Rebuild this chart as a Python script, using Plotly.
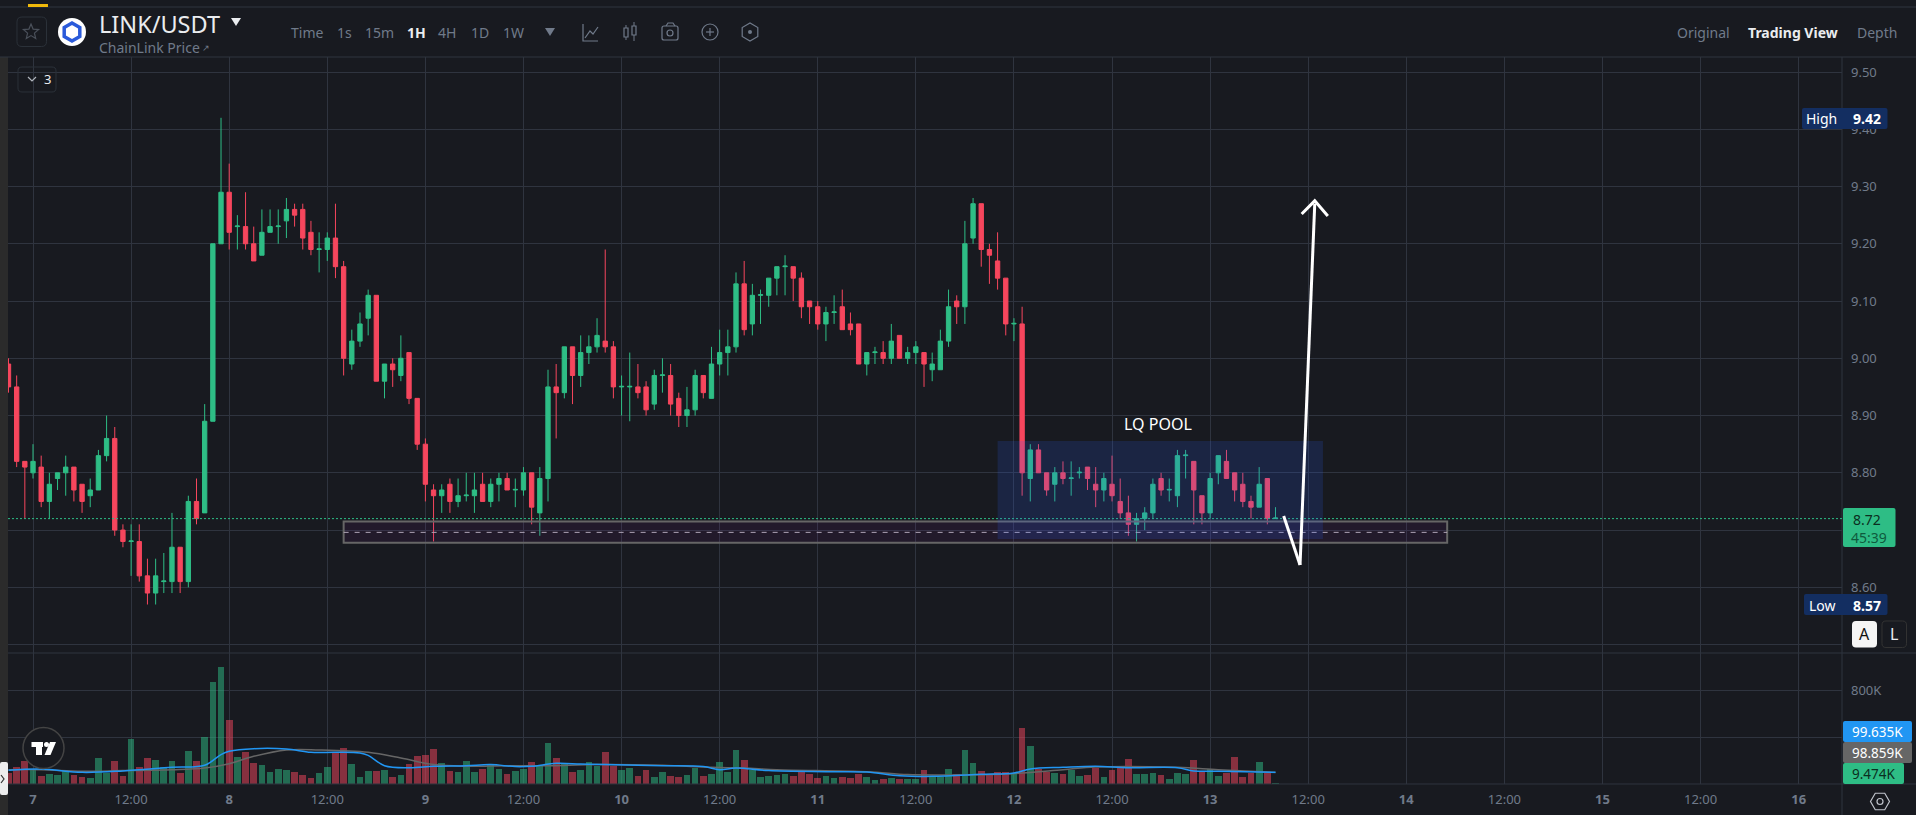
import math

import plotly.graph_objects as go

W = 1916
H = 815

BG = "#181A20"
GRID = "#2F343F"
MUTED = "#707A8A"
UP = "#2EBD85"
DOWN = "#F6465D"
NAVY = "#132E61"
FONT = "Noto Sans"

# hours counted from the 7th at 00:00
hours = list(range(-3, 153))

opens = [
    8.99, 8.95, 8.82,
    8.80, 8.81, 8.75, 8.79, 8.80, 8.81, 8.78, 8.76, 8.77, 8.83,
    8.86, 8.70, 8.68, 8.68, 8.62, 8.59, 8.61, 8.61, 8.67, 8.61,
    8.75, 8.73, 8.89, 9.20, 9.29, 9.23, 9.23, 9.20, 9.18, 9.22,
    9.23, 9.24, 9.26, 9.26, 9.22, 9.19, 9.19, 9.21, 9.16, 8.99,
    9.03, 9.07, 9.11, 8.96, 8.99, 8.97, 9.01, 8.93, 8.85, 8.77,
    8.76, 8.78, 8.75, 8.76, 8.76, 8.78, 8.75, 8.78, 8.79, 8.77,
    8.77, 8.80, 8.73, 8.79, 8.95, 8.94, 9.02, 8.97, 9.01, 9.02,
    9.03, 9.02, 8.95, 8.95, 8.95, 8.95, 8.92, 8.97, 8.97, 8.93,
    8.90, 8.91, 8.97, 8.93, 8.99, 9.01, 9.02, 9.13, 9.06, 9.11,
    9.11, 9.14, 9.16, 9.16, 9.14, 9.10, 9.09, 9.06, 9.08, 9.09,
    9.06, 9.06, 8.99, 9.01, 9.01, 9.00, 9.04, 9.00, 9.01, 9.01,
    8.98, 8.98, 9.03, 9.10, 9.09, 9.21, 9.27, 9.19, 9.17, 9.14,
    9.06, 9.06, 8.79, 8.84, 8.80, 8.78, 8.80, 8.79, 8.80, 8.81,
    8.78, 8.77, 8.78, 8.75, 8.73, 8.71, 8.72, 8.73, 8.79, 8.77,
    8.76, 8.83, 8.82, 8.76, 8.73, 8.80, 8.82, 8.80, 8.78, 8.75,
    8.74, 8.79, 8.72,
]
closes = [
    8.95, 8.82, 8.81,
    8.82, 8.75, 8.78, 8.80, 8.81, 8.77, 8.75, 8.77, 8.83, 8.86,
    8.70, 8.68, 8.681, 8.62, 8.59, 8.62, 8.611, 8.67, 8.61, 8.75,
    8.72, 8.89, 9.20, 9.29, 9.22, 9.231, 9.20, 9.17, 9.22, 9.23,
    9.231, 9.26, 9.25, 9.21, 9.19, 9.191, 9.21, 9.16, 9.00, 9.03,
    9.06, 9.11, 8.96, 8.99, 8.98, 9.00, 8.93, 8.85, 8.78, 8.76,
    8.77, 8.75, 8.76, 8.761, 8.77, 8.75, 8.78, 8.79, 8.77, 8.771,
    8.80, 8.74, 8.79, 8.95, 8.94, 9.02, 8.97, 9.01, 9.02, 9.04,
    9.02, 8.95, 8.951, 8.951, 8.94, 8.91, 8.97, 8.971, 8.92, 8.90,
    8.91, 8.97, 8.94, 8.99, 9.01, 9.02, 9.13, 9.05, 9.11, 9.111,
    9.14, 9.16, 9.161, 9.14, 9.09, 9.09, 9.06, 9.08, 9.081, 9.05,
    9.05, 8.99, 9.01, 9.011, 9.00, 9.03, 9.00, 9.01, 9.02, 8.99,
    8.99, 9.03, 9.09, 9.09, 9.20, 9.27, 9.19, 9.18, 9.14, 9.06,
    9.061, 8.80, 8.84, 8.80, 8.77, 8.80, 8.79, 8.791, 8.801, 8.79,
    8.77, 8.79, 8.76, 8.73, 8.71, 8.72, 8.73, 8.78, 8.77, 8.771,
    8.83, 8.831, 8.77, 8.73, 8.79, 8.83, 8.79, 8.77, 8.75, 8.74,
    8.78, 8.72, 8.721,
]
highs = [
    9.00, 8.97, 8.82,
    8.85, 8.83, 8.80, 8.80, 8.83, 8.81, 8.78, 8.79, 8.84, 8.90,
    8.88, 8.71, 8.71, 8.71, 8.65, 8.65, 8.66, 8.73, 8.67, 8.76,
    8.79, 8.92, 9.20, 9.42, 9.34, 9.25, 9.29, 9.23, 9.26, 9.26,
    9.26, 9.28, 9.27, 9.27, 9.24, 9.22, 9.22, 9.27, 9.17, 9.05,
    9.08, 9.12, 9.11, 8.99, 9.00, 9.04, 9.01, 8.93, 8.86, 8.78,
    8.78, 8.79, 8.79, 8.80, 8.80, 8.80, 8.79, 8.80, 8.80, 8.79,
    8.81, 8.80, 8.81, 8.98, 8.99, 9.02, 9.02, 9.04, 9.04, 9.07,
    9.19, 9.03, 8.97, 9.01, 8.99, 8.96, 8.98, 9.00, 8.99, 8.94,
    8.95, 8.98, 8.97, 9.02, 9.05, 9.05, 9.15, 9.17, 9.13, 9.12,
    9.14, 9.16, 9.18, 9.16, 9.15, 9.10, 9.10, 9.09, 9.11, 9.12,
    9.08, 9.06, 9.01, 9.02, 9.03, 9.06, 9.04, 9.02, 9.03, 9.01,
    9.01, 9.05, 9.12, 9.11, 9.24, 9.28, 9.27, 9.20, 9.22, 9.14,
    9.07, 9.09, 8.85, 8.85, 8.80, 8.81, 8.82, 8.82, 8.81, 8.81,
    8.81, 8.80, 8.83, 8.79, 8.76, 8.73, 8.74, 8.79, 8.80, 8.79,
    8.84, 8.84, 8.82, 8.76, 8.80, 8.83, 8.84, 8.80, 8.80, 8.76,
    8.81, 8.79, 8.74,
]
lows = [
    8.94, 8.81, 8.72,
    8.79, 8.74, 8.72, 8.77, 8.76, 8.75, 8.73, 8.74, 8.77, 8.82,
    8.69, 8.67, 8.62, 8.61, 8.57, 8.57, 8.59, 8.59, 8.59, 8.60,
    8.71, 8.73, 8.89, 9.20, 9.19, 9.19, 9.19, 9.17, 9.18, 9.22,
    9.20, 9.21, 9.23, 9.19, 9.18, 9.15, 9.17, 9.14, 8.97, 8.98,
    9.02, 9.04, 8.96, 8.93, 8.95, 8.96, 8.92, 8.84, 8.75, 8.68,
    8.73, 8.73, 8.74, 8.75, 8.73, 8.75, 8.74, 8.75, 8.77, 8.74,
    8.76, 8.71, 8.69, 8.75, 8.86, 8.93, 8.92, 8.95, 8.99, 9.01,
    9.01, 8.93, 8.90, 8.89, 8.93, 8.90, 8.91, 8.94, 8.90, 8.88,
    8.88, 8.90, 8.93, 8.93, 8.97, 8.97, 9.01, 9.04, 9.04, 9.06,
    9.09, 9.11, 9.11, 9.10, 9.07, 9.06, 9.05, 9.03, 9.06, 9.05,
    9.04, 8.99, 8.97, 8.99, 8.99, 8.99, 9.00, 8.99, 8.99, 8.95,
    8.96, 8.98, 9.02, 9.06, 9.06, 9.20, 9.16, 9.13, 9.12, 9.04,
    9.03, 8.76, 8.75, 8.80, 8.76, 8.75, 8.78, 8.76, 8.79, 8.77,
    8.74, 8.75, 8.75, 8.72, 8.69, 8.68, 8.70, 8.72, 8.76, 8.75,
    8.74, 8.79, 8.71, 8.71, 8.72, 8.78, 8.79, 8.75, 8.74, 8.72,
    8.74, 8.71, 8.72,
]
# volume in thousands
volume_k = [
    94, 148, 199,
    122, 71, 88, 80, 108, 80, 62, 54, 224, 97,
    199, 71, 386, 148, 224, 207, 148, 199, 97, 284,
    199, 403, 872, 1000, 548, 233, 275, 182, 165, 105,
    131, 122, 105, 80, 54, 97, 148, 267, 310, 173,
    62, 114, 114, 122, 62, 80, 173, 241, 250, 301,
    182, 114, 105, 199, 105, 131, 173, 131, 88, 114,
    131, 190, 156, 352, 224, 173, 105, 122, 190, 156,
    275, 156, 122, 139, 71, 122, 62, 105, 71, 62,
    80, 139, 71, 88, 190, 105, 293, 207, 122, 62,
    71, 80, 88, 71, 105, 88, 54, 71, 54, 62,
    54, 88, 62, 37, 45, 54, 45, 45, 45, 122,
    62, 62, 131, 88, 293, 182, 114, 88, 105, 105,
    88, 480, 327, 131, 105, 97, 88, 122, 71, 80,
    139, 62, 122, 148, 216, 88, 88, 97, 80, 45,
    97, 88, 207, 105, 131, 71, 97, 233, 62, 97,
    190, 97, 9.474,
]

# volume moving averages, read at a few hours and smoothed by the line shape
ma_fast_hours = [-3, 1, 6, 11, 17, 21, 23, 24, 27, 31, 34, 37, 40, 41, 43, 46, 49, 53, 56, 59,
                 61, 64, 67, 70, 77, 82, 84, 86, 90, 97, 102, 106, 110, 116, 120, 122, 126,
                 130, 134, 140, 142, 145, 152]
ma_fast_k = [116, 128, 99, 111, 142, 159, 250, 278, 301, 298, 270, 270, 264, 244, 156, 139, 151,
             156, 165, 148, 151, 176, 170, 165, 156, 148, 122, 136, 114, 105, 102, 71, 65, 82,
             94, 128, 142, 151, 139, 139, 111, 108, 99.635]
ma_slow_hours = [-3, 1, 6, 11, 17, 21, 24, 27, 31, 35, 41, 45, 49, 53, 58, 63, 69, 77, 83, 87,
                 91, 102, 107, 112, 119, 126, 130, 140, 145, 152]
ma_slow_k = [122, 122, 108, 114, 122, 136, 173, 236, 290, 290, 270, 222, 165, 151, 156, 156, 165,
             159, 142, 136, 122, 105, 80, 77, 85, 122, 145, 142, 122, 98.859]

price_ticks = [9.5, 9.4, 9.3, 9.2, 9.1, 9.0, 8.9, 8.8, 8.7, 8.6, 8.5]
price_labels = ["9.50", "9.40", "9.30", "9.20", "9.10", "9.00", "8.90", "8.80", "", "8.60", ""]
volume_ticks = [400, 800]
volume_labels = ["", "800K"]
time_ticks = [0, 12, 24, 36, 48, 60, 72, 84, 96, 108, 120, 132, 144, 156, 168, 180, 192, 204, 216]
time_labels = ["<b>7</b>", "12:00", "<b>8</b>", "12:00", "<b>9</b>", "12:00", "<b>10</b>", "12:00",
               "<b>11</b>", "12:00", "<b>12</b>", "12:00", "<b>13</b>", "12:00", "<b>14</b>", "12:00",
               "<b>15</b>", "12:00", "<b>16</b>"]

last_price = 8.72
zone_hours = [38, 173]
zone_prices = [8.678, 8.715]
zone_mid = 8.696
pool_hours = [118, 157.8]
pool_prices = [8.6845, 8.8556]
drop_path = [(153, 8.7246), (155, 8.639)]
rise_path = [(155, 8.639), (156.8, 9.27)]
head_path = [(155.2, 9.252), (156.8, 9.275), (158.4, 9.2485)]


def pt(x, y):
    return f"{x / W:.5f},{1 - y / H:.5f}"


def poly(points, color=None, fill=None, width=1, close=False):
    d = "M" + "L".join(pt(x, y) for x, y in points) + ("Z" if close else "")
    return dict(type="path", xref="paper", yref="paper", path=d, fillcolor=fill or "rgba(0,0,0,0)",
                line=dict(color=color or "rgba(0,0,0,0)", width=width))


def rbox(x0, y0, x1, y1, r=3, color=None, fill=None, width=1):
    d = (f"M{pt(x0 + r, y0)}L{pt(x1 - r, y0)}Q{pt(x1, y0)} {pt(x1, y0 + r)}"
         f"L{pt(x1, y1 - r)}Q{pt(x1, y1)} {pt(x1 - r, y1)}"
         f"L{pt(x0 + r, y1)}Q{pt(x0, y1)} {pt(x0, y1 - r)}"
         f"L{pt(x0, y0 + r)}Q{pt(x0, y0)} {pt(x0 + r, y0)}Z")
    return dict(type="path", xref="paper", yref="paper", path=d, fillcolor=fill or "rgba(0,0,0,0)",
                line=dict(color=color or "rgba(0,0,0,0)", width=width))


def ring(cx, cy, r, color=None, fill=None, width=1):
    return dict(type="circle", xref="paper", yref="paper", x0=(cx - r) / W, x1=(cx + r) / W,
                y0=1 - (cy + r) / H, y1=1 - (cy - r) / H, fillcolor=fill or "rgba(0,0,0,0)",
                line=dict(color=color or "rgba(0,0,0,0)", width=width))


def hexagon(cx, cy, r, color, width=1.2, fill=None, flat=False):
    start = 0 if flat else 30
    points = [(cx + r * math.cos(math.radians(start + 60 * i)),
               cy + r * math.sin(math.radians(start + 60 * i))) for i in range(6)]
    return poly(points, color=color, fill=fill, width=width, close=True)


def star(cx, cy, r, color):
    points = []
    for i in range(10):
        rad = r if i % 2 == 0 else r * 0.45
        a = math.radians(-90 + 36 * i)
        points.append((cx + rad * math.cos(a), cy + rad * math.sin(a)))
    return poly(points, color=color, width=1.2, close=True)


def data_line(points, color="#FFFFFF", width=3):
    d = "M" + "L".join(f"{x},{y}" for x, y in points)
    return dict(type="path", xref="x", yref="y", path=d, line=dict(color=color, width=width))


def text(s, x, y, size=13, color=MUTED, anchor="center", bold=False):
    return dict(text=f"<b>{s}</b>" if bold else s, x=x / W, y=1 - y / H, xref="paper", yref="paper",
                xanchor=anchor, yanchor="middle", showarrow=False,
                font=dict(family=FONT, size=size, color=color))


fig = go.Figure()

fig.add_trace(go.Bar(
    x=hours, y=volume_k, width=0.82, yaxis="y2",
    marker=dict(color=["rgba(46,189,133,0.5)" if c >= o else "rgba(246,70,93,0.5)"
                       for o, c in zip(opens, closes)], line=dict(width=0)),
))
fig.add_trace(go.Scatter(x=ma_slow_hours, y=ma_slow_k, yaxis="y2", mode="lines",
                         line=dict(color="#666666", width=1.5, shape="spline", smoothing=1)))
fig.add_trace(go.Scatter(x=ma_fast_hours, y=ma_fast_k, yaxis="y2", mode="lines",
                         line=dict(color="#2196F3", width=1.5, shape="spline", smoothing=1)))
fig.add_trace(go.Candlestick(
    x=hours, open=opens, high=highs, low=lows, close=closes, whiskerwidth=0,
    increasing=dict(line=dict(color=UP, width=1), fillcolor=UP),
    decreasing=dict(line=dict(color=DOWN, width=1), fillcolor=DOWN),
))

shapes = [
    # chrome separators
    dict(type="rect", xref="paper", yref="paper", x0=0, x1=8 / W, y0=0, y1=1 - 57 / H,
         fillcolor="#2B2B2B", line=dict(width=0)),
    poly([(0, 7), (W, 7)], color=GRID),
    poly([(0, 57), (W, 57)], color=GRID),
    poly([(8, 653), (W, 653)], color=GRID),
    poly([(8, 784), (W, 784)], color=GRID),
    poly([(1842, 57), (1842, H)], color=GRID),
    rbox(28, 4, 48, 7, r=0, fill="#F0B90B"),
    rbox(0, 762, 8, 795, r=2, fill="#EDEDED"),
    poly([(1, 775), (4, 779), (1, 783)], color="#333333", width=1.2),
    # last price line
    dict(type="line", xref="paper", yref="y", x0=8 / W, x1=1842 / W, y0=last_price, y1=last_price,
         line=dict(color=UP, width=1, dash="2px,2px")),
    # drawings on the chart
    dict(type="rect", xref="x", yref="y", x0=zone_hours[0], x1=zone_hours[1], y0=zone_prices[0],
         y1=zone_prices[1], fillcolor="rgba(156,39,176,0.08)", line=dict(color="#666666", width=2)),
    dict(type="line", xref="x", yref="y", x0=zone_hours[0], x1=zone_hours[1], y0=zone_mid, y1=zone_mid,
         line=dict(color="#B0A5B6", width=1, dash="5px,6px")),
    dict(type="rect", xref="x", yref="y", x0=pool_hours[0], x1=pool_hours[1], y0=pool_prices[0],
         y1=pool_prices[1], fillcolor="rgba(41,98,255,0.16)", line=dict(width=0)),
    data_line(drop_path),
    data_line(rise_path),
    data_line(head_path),
    # header
    rbox(17, 17, 46.5, 46.5, r=5, color="#2B3139"),
    star(31, 32, 8, "#4A505A"),
    ring(72, 32, 14, fill="#FFFFFF"),
    hexagon(72, 32, 9, "#2A5ADA", width=3.5, flat=False),
    poly([(231, 18), (241, 18), (236, 26)], fill="#EAECEF", close=True),
    poly([(545, 28), (555, 28), (550, 36)], fill=MUTED, close=True),
    # line chart icon
    poly([(583, 24), (583, 41), (598, 41)], color=MUTED, width=1.2),
    poly([(585, 38), (590, 31), (593, 34), (598, 27)], color=MUTED, width=1.2),
    # candle icon
    rbox(624, 28, 628, 37, r=0, color=MUTED, width=1.2),
    poly([(626, 25), (626, 28)], color=MUTED),
    poly([(626, 37), (626, 40)], color=MUTED),
    rbox(632, 26, 636, 35, r=0, color=MUTED, width=1.2),
    poly([(634, 22), (634, 26)], color=MUTED),
    poly([(634, 35), (634, 41)], color=MUTED),
    # camera icon
    rbox(662, 26, 678, 40, r=2, color=MUTED, width=1.2),
    ring(670, 33, 3, color=MUTED, width=1.2),
    poly([(666, 26), (668, 23), (673, 23), (675, 26)], color=MUTED, width=1.2),
    # plus icon
    ring(710, 32, 8, color=MUTED, width=1.2),
    poly([(706, 32), (714, 32)], color=MUTED, width=1.2),
    poly([(710, 28), (710, 36)], color=MUTED, width=1.2),
    # indicator icon
    hexagon(750, 32, 9, MUTED, flat=False),
    ring(750, 32, 2, fill=MUTED),
    # collapse button
    rbox(18, 67, 56, 92, r=4, color="#2B3139"),
    poly([(28, 77), (32, 81), (36, 77)], color="#B0B5BD", width=1.2),
    # TradingView mark
    ring(43.5, 748, 20.5, color="#444444", fill=BG, width=1.5),
    rbox(31.5, 742, 43, 747, r=0, fill="#FFFFFF"),
    rbox(36, 742, 42, 755, r=0, fill="#FFFFFF"),
    ring(46.5, 744.5, 2.5, fill="#FFFFFF"),
    poly([(50, 742), (56, 742), (50.5, 755), (44.5, 755)], fill="#FFFFFF", close=True),
    # axis labels
    rbox(1802, 108, 1887.5, 129, r=2, fill=NAVY),
    rbox(1804, 594, 1887.5, 615, r=2, fill=NAVY),
    rbox(1843, 508, 1895.5, 547, r=2, fill=UP),
    rbox(1852, 621, 1877, 647.5, r=4, fill="#F5F5F5"),
    rbox(1882, 621, 1906.5, 647.5, r=4, color="#333333"),
    rbox(1843, 721, 1912, 742, r=2, fill="#2196F3"),
    rbox(1843, 742, 1912, 763, r=2, fill="#666666"),
    rbox(1843, 763, 1904, 784, r=2, fill=UP),
    hexagon(1880, 801.5, 9.5, "#C0C4CC", flat=True),
    ring(1880, 801.5, 3, color="#C0C4CC", width=1.2),
]

annotations = [
    text("LINK/USDT", 97, 24, size=23.5, color="#EAECEF", anchor="left"),
    text("ChainLink Price", 97, 48, size=14, anchor="left"),
    text("↗", 206, 48, size=9),
    text("Time", 307, 33, size=14),
    text("1s", 344, 33, size=14),
    text("15m", 379, 33, size=14),
    text("1H", 416, 33, size=14, color="#EAECEF", bold=True),
    text("4H", 447, 33, size=14),
    text("1D", 479.5, 33, size=14),
    text("1W", 513, 33, size=14),
    text("Original", 1703, 33, size=14),
    text("Trading View", 1793, 33, size=14, color="#EAECEF", bold=True),
    text("Depth", 1877, 33, size=14),
    text("3", 47, 79, size=13, color="#EAECEF"),
    text("LQ POOL", 1158, 424, size=16, color="#FFFFFF"),
    text("High", 1821, 118, size=14, color="#FFFFFF"),
    text("9.42", 1866.5, 118, size=14, color="#FFFFFF", bold=True),
    text("Low", 1822.5, 605, size=14, color="#FFFFFF"),
    text("8.57", 1866.5, 605, size=14, color="#FFFFFF", bold=True),
    text("8.72", 1866.5, 519, size=14, color="#0B2E20"),
    text("45:39", 1869, 537, size=14, color="#0F5A3D"),
    text("A", 1864.5, 634, size=16, color="#111111"),
    text("L", 1894, 634, size=16, color="#EAECEF"),
    text("99.635K", 1877.5, 731.5, size=13.5, color="#FFFFFF"),
    text("98.859K", 1877.5, 752.5, size=13.5, color="#FFFFFF"),
    text("9.474K", 1873.5, 773.5, size=13.5, color="#0B2E20"),
]

fig.update_layout(
    width=W,
    height=H,
    margin=dict(l=0, r=0, t=0, b=0),
    paper_bgcolor=BG,
    plot_bgcolor=BG,
    showlegend=False,
    hovermode=False,
    boxgap=0.47,
    boxgroupgap=0,
    bargap=0,
    font=dict(family=FONT, size=13, color=MUTED),
    xaxis=dict(domain=[8 / W, 1842 / W], range=[-3.06, 221.3], anchor="y2", rangeslider=dict(visible=False),
               tickmode="array", tickvals=time_ticks, ticktext=time_labels, gridcolor=GRID, gridwidth=1,
               showline=False, zeroline=False, ticks="", ticklabelstandoff=6, tickfont=dict(size=13, color=MUTED)),
    yaxis=dict(domain=[1 - 653 / H, 1 - 57 / H], range=[8.4853, 9.5262], side="right", anchor="x",
               tickmode="array", tickvals=price_ticks, ticktext=price_labels, gridcolor=GRID, gridwidth=1,
               zeroline=False, ticks="", ticklabelstandoff=8, tickfont=dict(size=13, color=MUTED)),
    yaxis2=dict(domain=[1 - 784 / H, 1 - 653 / H], range=[0, 1115], side="right", anchor="x",
                tickmode="array", tickvals=volume_ticks, ticktext=volume_labels, gridcolor=GRID, gridwidth=1,
                zeroline=False, ticks="", ticklabelstandoff=8, tickfont=dict(size=13, color=MUTED)),
    shapes=shapes,
    annotations=annotations,
)

fig.write_html(
    "out.html",
    config={"displayModeBar": False},
    post_script="document.body.style.margin='0';document.body.style.overflow='hidden';"
                "document.body.style.background='#181A20';",
)
